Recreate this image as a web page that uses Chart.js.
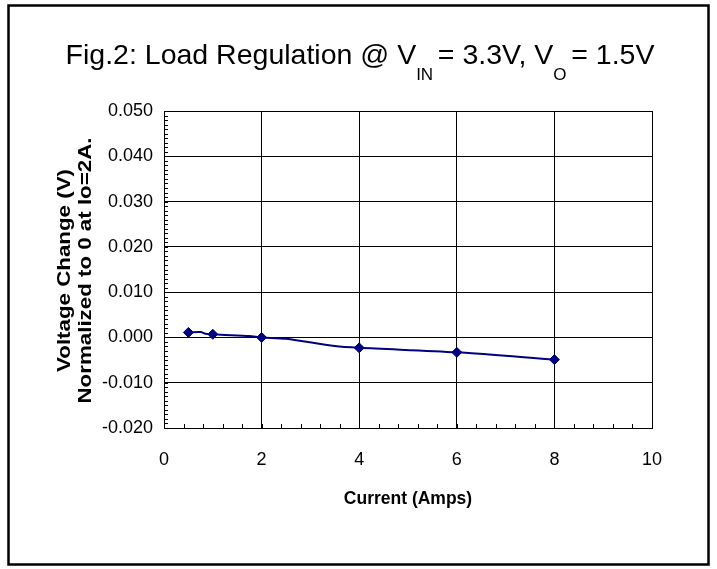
<!DOCTYPE html>
<html><head><meta charset="utf-8">
<script src="https://cdn.jsdelivr.net/npm/chart.js@4.4.0/dist/chart.umd.min.js"></script>
<style>html,body{margin:0;padding:0;background:#fff;}canvas{display:block}</style>
</head><body>
<canvas id="c" width="717" height="569"></canvas>
<script>
// ---- data ----
const markerCurrent = [0.5, 1, 2, 4, 6, 8];
const markerVoltage = [0.0011, 0.0007, 0.0000, -0.0023, -0.0033, -0.0049];
const curveCurrent = [0.5, 0.75, 0.85, 1, 1.5, 1.75, 2, 2.5, 3.5, 4, 6, 8];
const curveVoltage = [0.0011, 0.0012, 0.0008, 0.0007, 0.0004, 0.0003, 0.0000, -0.0003, -0.0019, -0.0023, -0.0033, -0.0049];
const xTickValues = [0, 2, 4, 6, 8, 10];
const xTickLabels = ['0', '2', '4', '6', '8', '10'];
const yTickValues = [-0.02, -0.01, 0, 0.01, 0.02, 0.03, 0.04, 0.05];
const yTickLabels = ['-0.020', '-0.010', '0.000', '0.010', '0.020', '0.030', '0.040', '0.050'];
const titleSegments = [
  { text: 'Fig.2: Load Regulation @ V', sub: false },
  { text: 'IN ', sub: true },
  { text: '= 3.3V, V', sub: false },
  { text: 'O ', sub: true },
  { text: '= 1.5V', sub: false }
];
const yTitleLines = ['Voltage Change (V)', 'Normalized to 0 at Io=2A.'];
const xTitle = 'Current (Amps)';
const xMinorStep = 0.4;
const yMinorStep = 0.001;

const FONT = '"Liberation Sans", Arial, Helvetica, sans-serif';
const NAVY = '#000080';

const decor = {
  id: 'decor',
  beforeDraw(chart) {
    const c = chart.ctx;
    c.save();
    c.fillStyle = '#fff';
    c.fillRect(0, 0, chart.width, chart.height);
    c.restore();
  },
  afterDraw(chart) {
    const c = chart.ctx;
    const xs = chart.scales.x, ys = chart.scales.y;
    const area = chart.chartArea;
    c.save();
    // outer frame
    c.strokeStyle = '#000';
    c.lineWidth = 2.5;
    c.strokeRect(8.5, 5.5, 700, 559);
    // minor ticks
    c.lineWidth = 1;
    c.beginPath();
    for (let v = xs.min; v <= xs.max + 1e-9; v += xMinorStep) {
      const px = Math.round(xs.getPixelForValue(v)) + 0.5;
      c.moveTo(px, area.bottom);
      c.lineTo(px, area.bottom - 4);
    }
    for (let k = 0; ys.min + k * yMinorStep <= ys.max + 1e-9; k++) {
      const py = Math.round(ys.getPixelForValue(ys.min + k * yMinorStep)) + 0.5;
      c.moveTo(area.left, py);
      c.lineTo(area.left + 4, py);
    }
    c.stroke();
    // title with subscripts
    c.fillStyle = '#000';
    c.textBaseline = 'alphabetic';
    c.textAlign = 'left';
    const mainFont = '28.5px ' + FONT, subFont = '17px ' + FONT;
    let total = 0;
    titleSegments.forEach(s => { c.font = s.sub ? subFont : mainFont; total += c.measureText(s.text).width; });
    let x = 360 - total / 2;
    titleSegments.forEach(s => {
      c.font = s.sub ? subFont : mainFont;
      c.fillText(s.text, x, s.sub ? 80 : 63.5);
      x += c.measureText(s.text).width;
    });
    // rotated y title (stretched along its baseline like the reference)
    c.font = 'bold 18px ' + FONT;
    c.textAlign = 'center';
    const ybase = [70, 90.5];
    yTitleLines.forEach((t, i) => {
      c.save();
      c.translate(ybase[i], 270.5);
      c.rotate(-Math.PI / 2);
      c.scale(1.24, 1);
      c.fillText(t, 0, 0);
      c.restore();
    });
    c.restore();
  }
};

new Chart(document.getElementById('c'), {
  type: 'scatter',
  data: {
    datasets: [
      {
        data: curveCurrent.map((v, i) => ({ x: v, y: curveVoltage[i] })),
        showLine: true, borderColor: NAVY, borderWidth: 2, pointRadius: 0,
        tension: 0.3, fill: false, order: 2
      },
      {
        data: markerCurrent.map((v, i) => ({ x: v, y: markerVoltage[i] })),
        showLine: false, pointStyle: 'rectRot', pointRadius: 5,
        backgroundColor: NAVY, borderColor: NAVY, borderWidth: 1, order: 1
      }
    ]
  },
  options: {
    responsive: false, animation: false, devicePixelRatio: 1,
    layout: { padding: { top: 111, right: 65, left: 0, bottom: 0 } },
    plugins: { legend: { display: false }, tooltip: { enabled: false }, title: { display: false } },
    scales: {
      x: {
        type: 'linear', min: 0, max: 10,
        afterBuildTicks: s => { s.ticks = xTickValues.map(v => ({ value: v })); },
        ticks: { callback: (v, i) => xTickLabels[i], font: { family: FONT, size: 18 }, color: '#000', padding: 21, maxRotation: 0, autoSkip: false },
        grid: { color: '#000', lineWidth: 1, drawTicks: false },
        border: { display: true, color: '#000', width: 1 },
        title: { display: true, text: xTitle, font: { family: FONT, size: 17.5, weight: 'bold' }, color: '#000', padding: { top: 0, bottom: 59 } },
        afterFit: s => { s.height = 141; }
      },
      y: {
        type: 'linear', min: -0.02, max: 0.05,
        afterBuildTicks: s => { s.ticks = yTickValues.map(v => ({ value: v })); },
        ticks: { callback: (v, i) => yTickLabels[i], font: { family: FONT, size: 18 }, color: '#000', padding: 11, autoSkip: false },
        grid: { color: '#000', lineWidth: 1, drawTicks: false },
        border: { display: true, color: '#000', width: 1 },
        title: { display: false },
        afterFit: s => { s.width = 164; }
      }
    }
  },
  plugins: [decor]
});
</script>
</body></html>
